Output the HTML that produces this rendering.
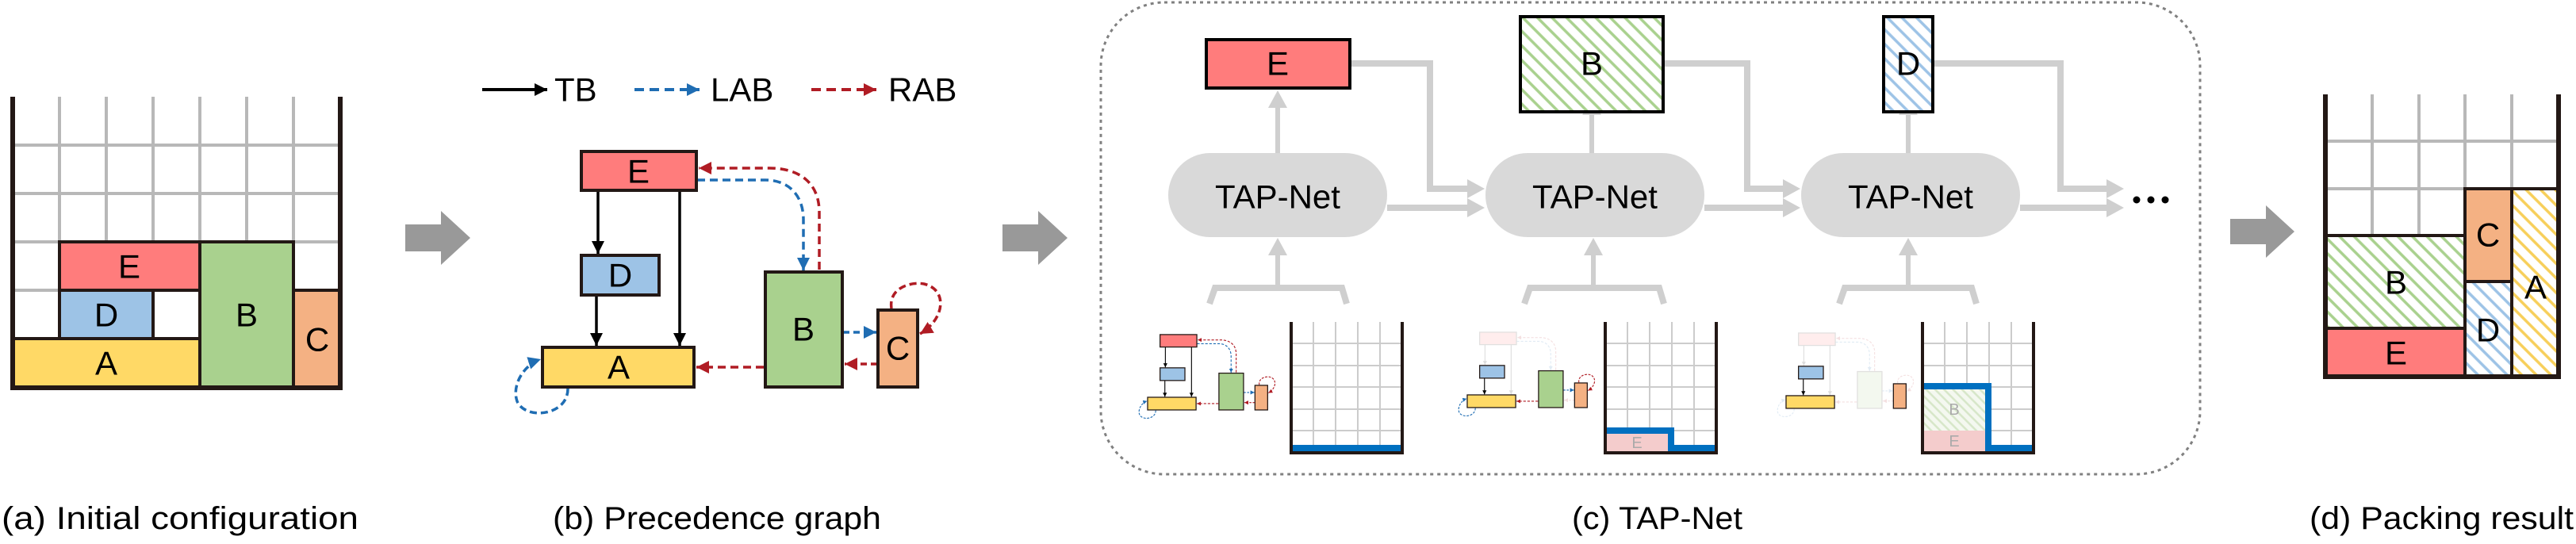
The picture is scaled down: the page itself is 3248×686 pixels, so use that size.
<!DOCTYPE html>
<html><head><meta charset="utf-8"><style>html,body{margin:0;padding:0;background:#fff}svg{display:block}</style></head>
<body>
<svg xmlns="http://www.w3.org/2000/svg" xmlns:xlink="http://www.w3.org/1999/xlink" width="3248" height="686" viewBox="0 0 3248 686" font-family="'Liberation Sans', sans-serif">
<defs>
<marker id="mk" markerUnits="userSpaceOnUse" markerWidth="18" markerHeight="18" refX="16" refY="8" orient="auto"><path d="M0,0 L16,8 L0,16 z" fill="#000"/></marker>
<marker id="mb" markerUnits="userSpaceOnUse" markerWidth="18" markerHeight="18" refX="16" refY="8" orient="auto"><path d="M0,0 L16,8 L0,16 z" fill="#1f6db3"/></marker>
<marker id="mr" markerUnits="userSpaceOnUse" markerWidth="18" markerHeight="18" refX="16" refY="8" orient="auto"><path d="M0,0 L16,8 L0,16 z" fill="#b01c24"/></marker>
<pattern id="hg" width="13" height="13" patternUnits="userSpaceOnUse" patternTransform="rotate(-45)"><rect width="13" height="13" fill="#fff"/><line x1="3" y1="0" x2="3" y2="13" stroke="#a9d18e" stroke-width="3.5"/></pattern>
<pattern id="hb" width="13" height="13" patternUnits="userSpaceOnUse" patternTransform="rotate(-45)"><rect width="13" height="13" fill="#fff"/><line x1="3" y1="0" x2="3" y2="13" stroke="#9dc3e6" stroke-width="3.5"/></pattern>
<pattern id="hy" width="13" height="13" patternUnits="userSpaceOnUse" patternTransform="rotate(-45)"><rect width="13" height="13" fill="#fff"/><line x1="3" y1="0" x2="3" y2="13" stroke="#f7cf5a" stroke-width="3.5"/></pattern>
<pattern id="hgf" width="8" height="8" patternUnits="userSpaceOnUse" patternTransform="rotate(-45)"><rect width="8" height="8" fill="#f4f8f0"/><line x1="2" y1="0" x2="2" y2="8" stroke="#d6e6c8" stroke-width="2.5"/></pattern>

<!-- graph elements -->
<rect id="nE" x="733" y="191" width="145" height="49" fill="#ff7c7c" stroke="#231815" stroke-width="4"/>
<rect id="nD" x="733" y="322" width="98" height="50" fill="#9dc3e6" stroke="#231815" stroke-width="4"/>
<rect id="nA" x="684" y="438" width="191" height="50" fill="#ffd966" stroke="#231815" stroke-width="4"/>
<rect id="nB" x="965" y="343" width="97" height="145" fill="#a9d18e" stroke="#231815" stroke-width="4"/>
<rect id="nC" x="1107" y="391" width="50" height="97" fill="#f4b183" stroke="#231815" stroke-width="4"/>
<path id="eED" d="M754,240 V320" stroke="#000" stroke-width="3.5" fill="none" marker-end="url(#mk)"/>
<path id="eDA" d="M752,372 V436" stroke="#000" stroke-width="3.5" fill="none" marker-end="url(#mk)"/>
<path id="eEA" d="M857,240 V436" stroke="#000" stroke-width="3.5" fill="none" marker-end="url(#mk)"/>
<path id="eBEr" d="M1033,340 V268 C1033,228 1005,212 970,212 H881" stroke="#b01c24" stroke-width="3.5" stroke-dasharray="10 6" fill="none" marker-end="url(#mr)"/>
<path id="eEBb" d="M879,227 H965 C995,227 1013,247 1013,277 V341" stroke="#1f6db3" stroke-width="3.5" stroke-dasharray="10 6" fill="none" marker-end="url(#mb)"/>
<path id="eBA" d="M963,463 H878" stroke="#b01c24" stroke-width="3.5" stroke-dasharray="10 6" fill="none" marker-end="url(#mr)"/>
<path id="eBC" d="M1063,419 H1105" stroke="#1f6db3" stroke-width="3.5" stroke-dasharray="8 5" fill="none" marker-end="url(#mb)"/>
<path id="eCB" d="M1106,459 H1065" stroke="#b01c24" stroke-width="3.5" stroke-dasharray="8 5" fill="none" marker-end="url(#mr)"/>
<path id="eCC" d="M1124,389 C1120,362 1150,355 1165,358 C1195,365 1192,402 1160,421" stroke="#b01c24" stroke-width="3.5" stroke-dasharray="9 5" fill="none" marker-end="url(#mr)"/>
<path id="eAA" d="M716,490 C716,525 662,530 652,506 C645,486 660,460 682,453" stroke="#1f6db3" stroke-width="3.5" stroke-dasharray="9 5" fill="none" marker-end="url(#mb)"/>
</defs>

<!-- ===== (a) ===== -->
<g stroke="#b8b8b8" stroke-width="4">
<path d="M75,122V489M134,122V489M193,122V489M252,122V489M311,122V489M370,122V489M16,183H429M16,244H429M16,305H429M16,366H429M16,427H429"/>
</g>
<g stroke="#231815" stroke-width="4">
<rect x="75" y="305" width="177" height="61" fill="#ff7c7c"/>
<rect x="75" y="366" width="118" height="61" fill="#9dc3e6"/>
<rect x="16" y="427" width="236" height="62" fill="#ffd966"/>
<rect x="252" y="305" width="118" height="184" fill="#a9d18e"/>
<rect x="370" y="366" width="59" height="123" fill="#f4b183"/>
</g>
<path d="M16,122V489H429V122" stroke="#231815" stroke-width="6" fill="none"/>
<g font-size="42" text-anchor="middle" dominant-baseline="central">
<text x="163" y="336">E</text><text x="134" y="397">D</text><text x="134" y="458">A</text><text x="311" y="397">B</text><text x="400" y="428">C</text>
</g>

<!-- big arrows -->
<g fill="#999">
<polygon points="511,283 556,283 556,266 593,300 556,334 556,317 511,317"/>
<polygon points="1264,283 1309,283 1309,266 1346,300 1309,334 1309,317 1264,317"/>
<polygon points="2812,276 2857,276 2857,259 2893,292 2857,325 2857,308 2812,308"/>
</g>

<!-- ===== (b) ===== -->
<path d="M608,113 H690" stroke="#000" stroke-width="4" marker-end="url(#mk)"/>
<path d="M800,113 H882" stroke="#1f6db3" stroke-width="4" stroke-dasharray="12 7" marker-end="url(#mb)"/>
<path d="M1023,113 H1105" stroke="#b01c24" stroke-width="4" stroke-dasharray="12 7" marker-end="url(#mr)"/>
<g font-size="42" dominant-baseline="central">
<text x="699" y="113">TB</text><text x="896" y="113">LAB</text><text x="1120" y="113">RAB</text>
</g>
<use xlink:href="#eED"/><use xlink:href="#eDA"/><use xlink:href="#eEA"/><use xlink:href="#eBEr"/><use xlink:href="#eEBb"/><use xlink:href="#eBA"/><use xlink:href="#eBC"/><use xlink:href="#eCB"/><use xlink:href="#eCC"/><use xlink:href="#eAA"/>
<use xlink:href="#nE"/><use xlink:href="#nD"/><use xlink:href="#nA"/><use xlink:href="#nB"/><use xlink:href="#nC"/>
<g font-size="42" text-anchor="middle" dominant-baseline="central">
<text x="805" y="216">E</text><text x="782" y="347">D</text><text x="780" y="463">A</text><text x="1013" y="415">B</text><text x="1132" y="439">C</text>
</g>

<!-- ===== (c) ===== -->
<rect x="1388" y="3" width="1386" height="595" rx="80" fill="none" stroke="#808080" stroke-width="3" stroke-dasharray="4 5"/>
<!-- connectors -->
<g stroke="#cfcfcf" stroke-width="8" fill="none">
<path d="M1702,80 H1803 V238 H1852"/><path d="M1749,262 H1852"/>
<path d="M2097,80 H2203 V238 H2250"/><path d="M2547,262 H2658"/><path d="M2149,262 H2250"/>
<path d="M2437,80 H2598 V238 H2658"/>
<path d="M1525,383 L1532,363 H1692 L1698,383"/><path d="M1922,383 L1929,363 H2092 L2098,383"/><path d="M2319,383 L2326,363 H2486 L2492,383"/>
</g>
<g stroke="#cfcfcf" stroke-width="6">
<path d="M1611,134V193M2007,134V193M2406,134V193M1611,320V363M2009,320V363M2406,320V363"/>
</g>
<g fill="#cfcfcf">
<polygon points="1850,226 1872,238 1850,250"/><polygon points="1850,250 1872,262 1850,274"/>
<polygon points="2248,226 2270,238 2248,250"/><polygon points="2248,250 2270,262 2248,274"/>
<polygon points="2656,226 2678,238 2656,250"/><polygon points="2656,250 2678,262 2656,274"/>
<polygon points="1599,136 1611,114 1623,136"/><polygon points="1995,145 2007,122 2019,145"/><polygon points="2394,145 2406,122 2418,145"/>
<polygon points="1599,322 1611,300 1623,322"/><polygon points="1997,322 2009,300 2021,322"/><polygon points="2394,322 2406,300 2418,322"/>
</g>
<g fill="#d9d9d9">
<rect x="1473" y="193" width="276" height="106" rx="53"/>
<rect x="1873" y="193" width="276" height="106" rx="53"/>
<rect x="2271" y="193" width="276" height="106" rx="53"/>
</g>
<g font-size="42" text-anchor="middle" dominant-baseline="central">
<text x="1611" y="248">TAP-Net</text><text x="2011" y="248">TAP-Net</text><text x="2409" y="248">TAP-Net</text>
</g>
<rect x="1521" y="50" width="181" height="61" fill="#ff7c7c" stroke="#000" stroke-width="4"/>
<rect x="1917" y="21" width="180" height="120" fill="url(#hg)" stroke="#000" stroke-width="4"/>
<rect x="2375" y="21" width="62" height="120" fill="url(#hb)" stroke="#000" stroke-width="4"/>
<g font-size="42" text-anchor="middle" dominant-baseline="central">
<text x="1611" y="80">E</text><text x="2007" y="80">B</text><text x="2406" y="80">D</text>
</g>
<g fill="#000"><circle cx="2694" cy="252" r="4.5"/><circle cx="2712" cy="252" r="4.5"/><circle cx="2730" cy="252" r="4.5"/></g>

<!-- mini graph 1 -->
<g transform="translate(1228.1,360.8) scale(0.32)">
<use xlink:href="#eED"/><use xlink:href="#eDA"/><use xlink:href="#eEA"/><use xlink:href="#eBEr"/><use xlink:href="#eEBb"/><use xlink:href="#eBA"/><use xlink:href="#eBC"/><use xlink:href="#eCB"/><use xlink:href="#eCC"/><use xlink:href="#eAA"/>
<use xlink:href="#nE"/><use xlink:href="#nD"/><use xlink:href="#nA"/><use xlink:href="#nB"/><use xlink:href="#nC"/>
</g>
<!-- mini graph 2 -->
<g transform="translate(1631.1,357.8) scale(0.32)">
<g opacity="0.13"><use xlink:href="#eED"/><use xlink:href="#eEA"/><use xlink:href="#eBEr"/><use xlink:href="#eEBb"/><use xlink:href="#eCB"/><use xlink:href="#nE"/></g>
<use xlink:href="#eDA"/><use xlink:href="#eBA"/><use xlink:href="#eBC"/><use xlink:href="#eCC"/><use xlink:href="#eAA"/>
<use xlink:href="#nD"/><use xlink:href="#nA"/><use xlink:href="#nB"/><use xlink:href="#nC"/>
</g>
<!-- mini graph 3 -->
<g transform="translate(2033.1,358.8) scale(0.32)">
<g opacity="0.13"><use xlink:href="#eED"/><use xlink:href="#eEA"/><use xlink:href="#eBEr"/><use xlink:href="#eEBb"/><use xlink:href="#eCB"/><use xlink:href="#eBA"/><use xlink:href="#eBC"/><use xlink:href="#eCC"/><use xlink:href="#eAA"/><use xlink:href="#nE"/><use xlink:href="#nB"/></g>
<use xlink:href="#eDA"/><use xlink:href="#nD"/><use xlink:href="#nA"/><use xlink:href="#nC"/>
</g>

<!-- mini bins -->
<g stroke="#cccccc" stroke-width="2">
<path d="M1656,406V569M1684,406V569M1712,406V569M1740,406V569M1628,433H1768M1628,461H1768M1628,488H1768M1628,516H1768M1628,543H1768"/>
<path d="M2052,406V569M2080,406V569M2108,406V569M2136,406V569M2024,433H2164M2024,461H2164M2024,488H2164M2024,516H2164M2024,543H2164"/>
<path d="M2452,406V569M2480,406V569M2508,406V569M2536,406V569M2424,433H2564M2424,461H2564M2424,488H2564M2424,516H2564M2424,543H2564"/>
</g>
<!-- bin1 -->
<rect x="1630" y="561" width="136" height="8" fill="#0070c0"/>
<!-- bin2 -->
<rect x="2026" y="547" width="77" height="22" fill="#f4cccc"/>
<path d="M2026,543 H2107 V565 H2162" stroke="#0070c0" stroke-width="8" fill="none"/>
<text x="2064" y="559" font-size="20" fill="#aaa" text-anchor="middle" dominant-baseline="central">E</text>
<!-- bin3 -->
<rect x="2426" y="491" width="77" height="52" fill="url(#hgf)"/>
<rect x="2426" y="543" width="77" height="26" fill="#f4cccc"/>
<path d="M2426,487 H2507 V565 H2562" stroke="#0070c0" stroke-width="8" fill="none"/>
<text x="2464" y="517" font-size="20" fill="#aaa" text-anchor="middle" dominant-baseline="central">B</text>
<text x="2464" y="557" font-size="20" fill="#aaa" text-anchor="middle" dominant-baseline="central">E</text>
<g stroke="#231815" stroke-width="4" fill="none">
<path d="M1628,406V571H1768V406"/><path d="M2024,406V571H2164V406"/><path d="M2424,406V571H2564V406"/>
</g>

<!-- ===== (d) ===== -->
<g stroke="#b8b8b8" stroke-width="4">
<path d="M2991,119V475M3050,119V475M3108,119V475M3167,119V475M2932,178H3226M2932,238H3226M2932,297H3226M2932,355H3226M2932,414H3226"/>
</g>
<g stroke="#231815" stroke-width="4">
<rect x="2932" y="414" width="176" height="61" fill="#ff7c7c"/>
<rect x="2932" y="297" width="176" height="117" fill="url(#hg)"/>
<rect x="3108" y="238" width="59" height="117" fill="#f4b183"/>
<rect x="3108" y="355" width="59" height="120" fill="url(#hb)"/>
<rect x="3167" y="238" width="59" height="237" fill="url(#hy)"/>
</g>
<path d="M2932,119V475H3226V119" stroke="#231815" stroke-width="6" fill="none"/>
<g font-size="42" text-anchor="middle" dominant-baseline="central">
<text x="3021" y="356">B</text><text x="3021" y="445">E</text><text x="3137" y="296">C</text><text x="3137" y="416">D</text><text x="3197" y="362">A</text>
</g>

<!-- captions -->
<g font-size="40">
<text x="2" y="667" textLength="450" lengthAdjust="spacingAndGlyphs">(a) Initial configuration</text>
<text x="697" y="667" textLength="414" lengthAdjust="spacingAndGlyphs">(b) Precedence graph</text>
<text x="1982" y="667" textLength="215" lengthAdjust="spacingAndGlyphs">(c) TAP-Net</text>
<text x="2912" y="667" textLength="333" lengthAdjust="spacingAndGlyphs">(d) Packing result</text>
</g>
</svg>
</body></html>
